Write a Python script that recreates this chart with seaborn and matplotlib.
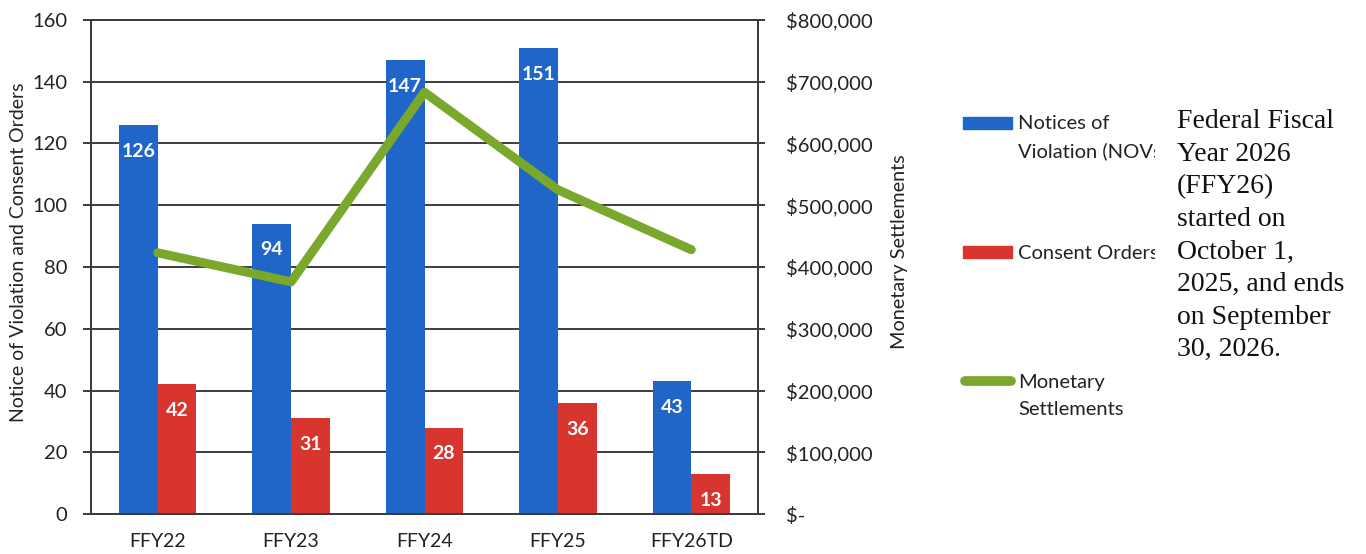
import numpy as np
import pandas as pd
import matplotlib
matplotlib.use("Agg")
import matplotlib.pyplot as plt
import seaborn as sns
from matplotlib.patches import Rectangle
from matplotlib.lines import Line2D
from matplotlib.transforms import Bbox
from matplotlib.ticker import FixedLocator, FuncFormatter, NullFormatter

# ---- data -------------------------------------------------------------
years = ["FFY22", "FFY23", "FFY24", "FFY25", "FFY26TD"]
nov_counts = [126, 94, 147, 151, 43]
consent_orders = [42, 31, 28, 36, 13]
settlements = [423000, 376000, 683000, 525000, 428000]

bar_series = ["Notices of Violation (NOVs)", "Consent Orders"]
line_series = "Monetary Settlements"
legend_labels = ["Notices of\nViolation (NOVs)", "Consent Orders", "Monetary\nSettlements"]

count_ticks = [0, 20, 40, 60, 80, 100, 120, 140, 160]
money_ticks = [0, 100000, 200000, 300000, 400000, 500000, 600000, 700000, 800000]

note_text = ("Federal Fiscal\nYear 2026\n(FFY26)\nstarted on\nOctober 1,\n"
             "2025, and ends\non September\n30, 2026.")

# ---- style ------------------------------------------------------------
BLUE = "#1F66C8"
RED = "#D8352F"
GREEN = "#7AA82D"
GRID = "#3C3C3C"
INK = "#222222"

sns.set_theme(style="white")
plt.rcParams["font.family"] = ["Lato", "DejaVu Sans"]

W, H = 1366, 554
fig = plt.figure(figsize=(W / 100, H / 100), dpi=100)
fig.patch.set_facecolor("white")

def px(x0, y0, x1, y1):
    """Figure-fraction rectangle from pixel corners (top-left origin)."""
    return [x0 / W, 1 - y1 / H, (x1 - x0) / W, (y1 - y0) / H]

ax = fig.add_axes(px(91, 20, 758, 514))

bars = pd.DataFrame({
    "year": years * 2,
    "count": nov_counts + consent_orders,
    "series": [bar_series[0]] * len(years) + [bar_series[1]] * len(years),
})
sns.barplot(data=bars, x="year", y="count", hue="series",
            palette=[BLUE, RED], saturation=1, width=0.58, gap=0,
            linewidth=0, legend=False, ax=ax, zorder=2)

for cont, vals in zip(ax.containers, [nov_counts, consent_orders]):
    ax.bar_label(cont, labels=[str(v) for v in vals], padding=-25,
                 color="white", fontsize=14, fontweight="bold")

ax.set_xlim(-0.5, len(years) - 0.5)
ax.set_ylim(count_ticks[0], count_ticks[-1])
ax.yaxis.set_major_locator(FixedLocator(count_ticks))
ax.set_xlabel("")
ax.set_ylabel("")
ax.set_axisbelow(True)
ax.yaxis.grid(True, color=GRID, linewidth=1.4)
ax.xaxis.grid(False)

# boundaries between year groups carry the x tick marks
ax.xaxis.set_minor_locator(FixedLocator(np.arange(len(years) + 1) - 0.5))
ax.xaxis.set_minor_formatter(NullFormatter())
ax.tick_params(axis="x", which="major", length=0, pad=14,
               labelsize=14, labelcolor=INK)
ax.tick_params(axis="x", which="minor", direction="out", length=6,
               width=1.4, color=GRID)
ax.tick_params(axis="y", which="major", direction="out", length=6,
               width=1.4, color=GRID, pad=11, labelsize=14.5, labelcolor=INK,
               left=True)
for s in ax.spines.values():
    s.set_visible(True)
    s.set_color(GRID)
    s.set_linewidth(1.4)

# ---- settlements on the secondary axis ----------------------------------
ax2 = ax.twinx()
sns.lineplot(x=np.arange(len(years)), y=settlements, color=GREEN,
             linewidth=6.5, sort=False, ax=ax2, zorder=3)
ax2.set_ylim(money_ticks[0], money_ticks[-1])
ax2.yaxis.set_major_locator(FixedLocator(money_ticks))
ax2.yaxis.set_major_formatter(
    FuncFormatter(lambda v, _: f"${v:,.0f}" if v else "$-"))
ax2.tick_params(axis="y", which="major", direction="out", length=5,
                width=1.4, color=GRID, pad=15, labelsize=14.5, labelcolor=INK,
                right=True)
ax2.grid(False)
for s in ax2.spines.values():
    s.set_visible(True)
    s.set_color(GRID)
    s.set_linewidth(1.4)
ax2.set_ylabel("")

# ---- axis titles --------------------------------------------------------
fig.text(19 / W, 1 - 252 / H, "Notice of Violation and Consent Orders",
         rotation=90, ha="center", va="center", fontsize=14, color=INK)
fig.text(900 / W, 1 - 252 / H, line_series,
         rotation=90, ha="center", va="center", fontsize=14.3, color=INK)

# ---- legend -------------------------------------------------------------
clip = Bbox.from_extents(0, 0, 1155, H)
fig.patches.append(Rectangle((963 / W, 1 - 129 / H), 49 / W, 12 / H,
                             transform=fig.transFigure, color=BLUE))
fig.patches.append(Rectangle((963 / W, 1 - 258 / H), 49 / W, 12 / H,
                             transform=fig.transFigure, color=RED))
fig.lines.append(Line2D([965 / W, 1011 / W], [1 - 381 / H, 1 - 381 / H],
                        transform=fig.transFigure, color=GREEN, linewidth=7,
                        solid_capstyle="round"))
for label, ymid in zip(legend_labels, [122, 252, 381]):
    t = fig.text(1018 / W, 1 - (ymid - 7) / H, label, ha="left", va="top",
                 fontsize=14.5, color=INK, linespacing=1.72)
    t.set_clip_box(clip)
    t.set_clip_on(True)

# ---- note ---------------------------------------------------------------
fig.text(1177 / W, 1 - 109 / H, note_text, ha="left", va="top",
         fontsize=20, family="Liberation Serif", color="#111111",
         linespacing=1.40)

fig.savefig("out.png", dpi=100, facecolor="white")
